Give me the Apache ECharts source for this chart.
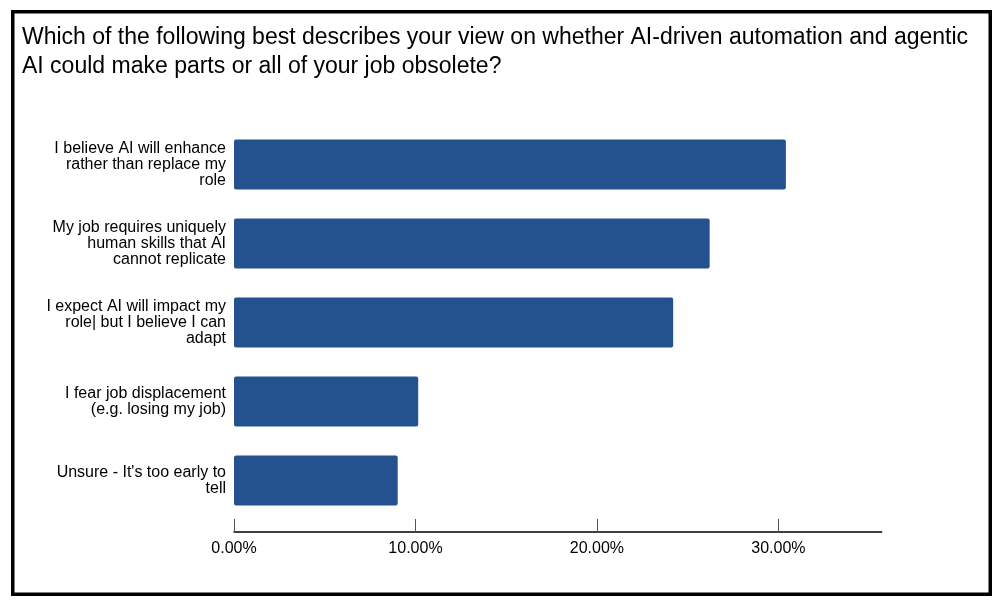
<!DOCTYPE html>
<html>
<head>
<meta charset="utf-8">
<script src="https://cdn.jsdelivr.net/npm/echarts@6/dist/echarts.min.js"></script>
<style>
html,body{margin:0;padding:0;background:#fff;}
#chart{width:1003px;height:608px;}
</style>
</head>
<body>
<div id="chart"></div>
<script>
var titleText = "Which of the following best describes your view on whether AI-driven automation and agentic\nAI could make parts or all of your job obsolete?";
var categories = [
  "I believe AI will enhance\nrather than replace my\nrole",
  "My job requires uniquely\nhuman skills that AI\ncannot replicate",
  "I expect AI will impact my\nrole| but I believe I can\nadapt",
  "I fear job displacement\n(e.g. losing my job)",
  "Unsure - It's too early to\ntell"
];
var values = [30.41, 26.21, 24.2, 10.15, 9.02];
var tickValues = [0, 10, 20, 30];
var axisMax = 35.69;

var chart = echarts.init(document.getElementById('chart'));
var font = "Arial, 'Liberation Sans', sans-serif";
chart.setOption({
  animation: false,
  backgroundColor: '#fff',
  title: {
    text: titleText,
    left: 17,
    top: 18,
    textStyle: {fontFamily: font, fontSize: 23, fontWeight: 'normal', color: '#000', lineHeight: 29}
  },
  graphic: [{
    type: 'rect',
    shape: {x: 12.75, y: 11.75, width: 977.5, height: 582.5},
    style: {fill: 'none', stroke: '#000', lineWidth: 3.5},
    silent: true
  }],
  grid: {left: 234, top: 125, width: 647.7, height: 395},
  xAxis: {
    type: 'value',
    min: 0,
    max: axisMax,
    interval: 10,
    offset: 12,
    splitLine: {show: false},
    axisLine: {show: true, lineStyle: {color: '#000', width: 1.5}},
    axisTick: {show: true, inside: true, length: 13, customValues: tickValues, lineStyle: {color: '#555', width: 1}},
    axisLabel: {
      customValues: tickValues,
      margin: 9,
      fontFamily: font, fontSize: 16, color: '#000',
      formatter: function (v) { return v.toFixed(2) + '%'; }
    }
  },
  yAxis: {
    type: 'category',
    inverse: true,
    data: categories,
    axisLine: {show: false},
    axisTick: {show: false},
    axisLabel: {margin: 8, fontFamily: font, fontSize: 16, color: '#000', lineHeight: 16, align: 'right'}
  },
  series: [{
    type: 'bar',
    data: values,
    barWidth: 50,
    itemStyle: {color: '#24528f', borderRadius: 2}
  }]
});
</script>
</body>
</html>
